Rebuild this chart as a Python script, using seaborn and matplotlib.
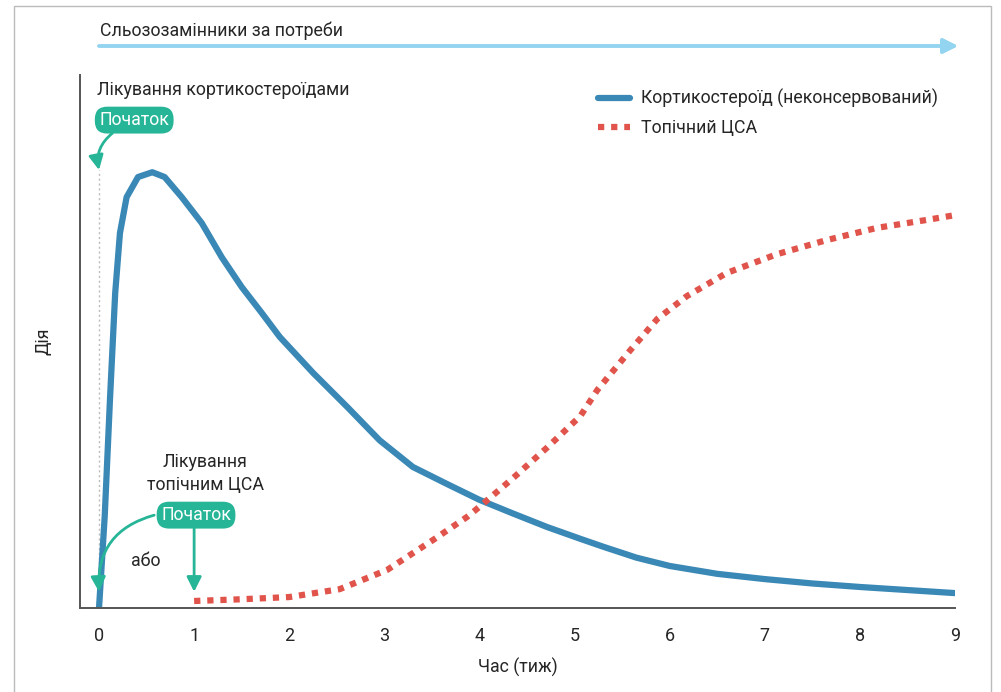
import numpy as np
import pandas as pd
import seaborn as sns
import matplotlib.pyplot as plt
from matplotlib.patches import Rectangle

# values (y: peak of the steroid curve ~ 100)
steroid_x = [0, 0.06, 0.116, 0.17, 0.22, 0.29, 0.41, 0.56, 0.69, 0.87, 1.08, 1.29,
             1.5, 1.71, 1.9, 2.25, 2.61, 2.95, 3.3, 3.66, 4.0, 4.35, 4.71, 5.06,
             5.3, 5.65, 6.0, 6.5, 7.0, 7.5, 8.0, 8.5, 9.0]
steroid_y = [0, 21, 48, 71.9, 85.6, 93.8, 98.4, 99.5, 98.4, 93.8, 87.9, 80.1,
             73.3, 67.4, 61.9, 53.7, 45.9, 38.3, 32.2, 28.3, 24.7, 21.6, 18.5, 15.8,
             14.0, 11.5, 9.6, 7.8, 6.6, 5.6, 4.8, 4.1, 3.4]
csa_x = [1.0, 1.5, 2.0, 2.53, 3.03, 3.51, 3.87, 4.0, 4.35, 4.71, 5.06, 5.24,
         5.58, 5.87, 6.18, 6.6, 7.13, 7.65, 8.18, 8.7, 9.0]
csa_y = [1.6, 2.0, 2.5, 4.3, 8.7, 15.5, 20.8, 23.1, 29.6, 36.6, 43.8, 49.8,
         58.7, 66.0, 71.2, 76.5, 80.8, 84.0, 86.8, 88.6, 89.7]
xticks = list(range(10))

label_steroid = 'Кортикостероїд (неконсервований)'
label_csa = 'Топічний ЦСА'

steroid = pd.DataFrame({'t': steroid_x, 'v': steroid_y})
csa = pd.DataFrame({'t': csa_x, 'v': csa_y})

blue = '#3a88b6'
red = '#e0544b'
green = '#27b597'
sky = '#93d4f0'

sns.set_style('white')
plt.rcParams['font.family'] = ['Roboto', 'DejaVu Sans']
fs = 12.8

fig = plt.figure(figsize=(10.01, 6.92), dpi=100)
ax = fig.add_axes([80/1001, 1-608/692, 875/1001, 533/692])

sns.lineplot(data=steroid, x='t', y='v', ax=ax, color=blue, lw=4.5,
             label=label_steroid, solid_capstyle='round', solid_joinstyle='round')
sns.lineplot(data=csa, x='t', y='v', ax=ax, color=red, lw=4.5,
             linestyle=(0, (1, 1.1)), label=label_csa)

ax.set_xlim(-0.2, 9.0)
ax.set_ylim(0, 121.7)
ax.set_xticks(xticks)
ax.set_yticks([])
for s in ['top', 'right']:
    ax.spines[s].set_visible(False)
for s in ['left', 'bottom']:
    ax.spines[s].set_color('#555555')
    ax.spines[s].set_linewidth(1.4)
ax.tick_params(axis='x', length=8, width=1.3, color='#555555', labelsize=13, pad=6)
ax.set_xlabel('Час (тиж)', fontsize=fs, labelpad=9)
ax.set_ylabel('Дія', fontsize=fs, labelpad=20)

# dotted guide at week 0
ax.plot([0, 0], [0, 100], color='#bbbbbb', lw=1, ls=(0, (1.5, 2)), zorder=1)

# annotations
ax.text(-0.02, 118.3, 'Лікування кортикостероїдами', fontsize=fs, va='center', ha='left')
box = dict(boxstyle='round,pad=0.25,rounding_size=0.7', fc=green, ec='none')
ax.text(0.37, 111.4, 'Початок', fontsize=fs, color='white', ha='center', va='center', bbox=box)
ax.text(1.115, 30.8, 'Лікування\nтопічним ЦСА', fontsize=fs, ha='center', va='center',
        linespacing=1.35)
ax.text(1.02, 21.2, 'Початок', fontsize=fs, color='white', ha='center', va='center', bbox=box)
ax.text(0.49, 10.7, 'або', fontsize=fs, ha='center', va='center')

arrow = dict(arrowstyle='-|>', color=green, lw=2, mutation_scale=22, shrinkA=0, shrinkB=0)
ax.annotate('', xy=(0, 100), xytext=(0.14, 108.4),
            arrowprops=dict(arrow, connectionstyle='arc3,rad=0.3'))
ax.annotate('', xy=(1.0, 3.7), xytext=(1.0, 18.5), arrowprops=arrow)
ax.annotate('', xy=(0.0, 3.7), xytext=(0.58, 21.2),
            arrowprops=dict(arrow, connectionstyle='arc3,rad=0.4'))

leg = ax.legend(loc='upper left', bbox_to_anchor=(598/1001, 1-89/692),
                bbox_transform=fig.transFigure, frameon=False, fontsize=fs,
                handlelength=1.8, handletextpad=0.6, labelspacing=0.6,
                borderpad=0, borderaxespad=0)

# top arrow: tear substitutes as needed
fig.text(100/1001, 1-31/692, 'Сльозозамінники за потреби', fontsize=fs, va='center')
fig.add_artist(plt.annotate('', xy=(958/1001, 1-46/692), xytext=(99/1001, 1-46/692),
                            xycoords='figure fraction', textcoords='figure fraction',
                            arrowprops=dict(arrowstyle='-|>', color=sky, lw=2.5,
                                            mutation_scale=22, shrinkA=0, shrinkB=0)))

# outer frame
fig.add_artist(Rectangle((14/1001, -0.02), 977/1001, 1-6/692+0.02, transform=fig.transFigure,
                         fill=False, ec='#bbbbbb', lw=1))

fig.savefig('out.png', dpi=100)
